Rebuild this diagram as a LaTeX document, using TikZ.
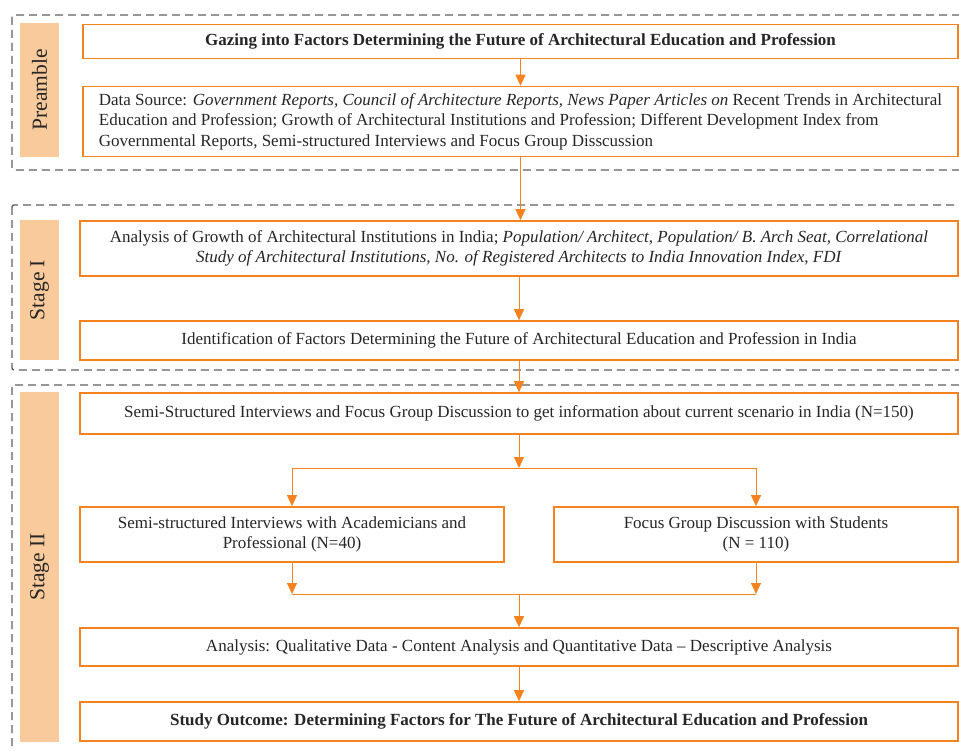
\documentclass[tikz,border=0pt]{standalone}
\usepackage{fontspec}
\setmainfont{Liberation Serif}
\usepackage{tikz}
\usetikzlibrary{arrows.meta, calc}
\definecolor{boxOr}{HTML}{F4821F}
\definecolor{lblFill}{HTML}{F9CB9C}
\definecolor{frameGr}{HTML}{5F5F5F}
\definecolor{txtDark}{HTML}{262626}

\begin{document}
\begin{tikzpicture}[x=1pt, y=-1pt, box/.style={draw=boxOr, line width=1.6pt, fill=white, inner sep=0pt, align=center, font=\fontsize{17}{20.5}\selectfont, text=txtDark}, stg/.style={fill=lblFill, inner sep=0pt, rotate=90, minimum height=39pt, font=\fontsize{21.5}{24}\selectfont, text=txtDark}, frm/.style={draw=frameGr, line width=1.4pt, dash pattern=on 8pt off 5pt, rounded corners=2pt}, arr/.style={draw=boxOr, line width=0.9pt, -{Triangle[width=10pt,length=11pt]}}, lnk/.style={draw=boxOr, line width=0.9pt}]
\useasboundingbox (0,0) rectangle (959,751);
\clip (0,0) rectangle (959,751);
% section frames
\draw[frm] (12,15) rectangle (990,170);
\draw[frm] (12,205) rectangle (990,370);
\draw[frm] (12,385) rectangle (990,780);
% stage labels
\node[stg, minimum width=134pt] (lPre) at (39.5,90) {Preamble};
\node[stg, minimum width=140pt] (lOne) at (39.5,290) {Stage I};
\node[stg, minimum width=350pt] (lTwo) at (39.5,567) {Stage II};
% boxes
\node[box, minimum width=875pt, minimum height=34pt] (title) at (520.5,41.5) {\textbf{Gazing into Factors Determining the Future of Architectural Education and Profession}};
\node[box, minimum width=875pt, minimum height=70pt, align=left] (data) at (520.5,121.5) {Data Source: \textit{Government Reports, Council of Architecture Reports, News Paper Articles on} Recent Trends in Architectural\\Education and Profession; Growth of Architectural Institutions and Profession; Different Development Index from\\Governmental Reports, Semi-structured Interviews and Focus Group Disscussion};
\node[box, minimum width=878pt, minimum height=55pt] (growth) at (519,248.5) {Analysis of Growth of Architectural Institutions in India; \textit{Population/ Architect, Population/ B. Arch Seat, Correlational}\\\textit{Study of Architectural Institutions, No. of Registered Architects to India Innovation Index, FDI}};
\node[box, minimum width=878pt, minimum height=39pt] (ident) at (519,340.5) {Identification of Factors Determining the Future of Architectural Education and Profession in India};
\node[box, minimum width=878pt, minimum height=41pt] (semi) at (519,413.5) {Semi-Structured Interviews and Focus Group Discussion to get information about current scenario in India (N=150)};
\node[box, minimum width=424pt, minimum height=55pt] (intv) at (292,534.5) {Semi-structured Interviews with Academicians and\\Professional (N=40)};
\node[box, minimum width=404pt, minimum height=55pt] (fgd) at (756,534.5) {Focus Group Discussion with Students\\(N = 110)};
\node[box, minimum width=878pt, minimum height=38pt] (anal) at (519,647) {Analysis: Qualitative Data - Content Analysis and Quantitative Data -- Descriptive Analysis};
\node[box, minimum width=878pt, minimum height=39pt] (outc) at (519,721.5) {\textbf{Study Outcome: Determining Factors for The Future of Architectural Education and Profession}};
% connectors
\coordinate (split) at (519,468);
\coordinate (merge) at (519,594);
\draw[arr] (title) -- (data);
\draw[arr] (data) -- (data |- growth.north);
\draw[arr] (growth) -- (ident);
\draw[arr] (ident) -- (semi);
\draw[arr] (semi) -- (split);
\draw[lnk] (split -| intv) -- (split -| fgd);
\draw[arr] (split -| intv) -- (intv);
\draw[arr] (split -| fgd) -- (fgd);
\draw[arr] (intv) -- (intv |- merge);
\draw[arr] (fgd) -- (fgd |- merge);
\draw[lnk] (intv |- merge) -- (fgd |- merge);
\draw[arr] (merge) -- (anal);
\draw[arr] (anal) -- (outc);
\end{tikzpicture}
\end{document}
